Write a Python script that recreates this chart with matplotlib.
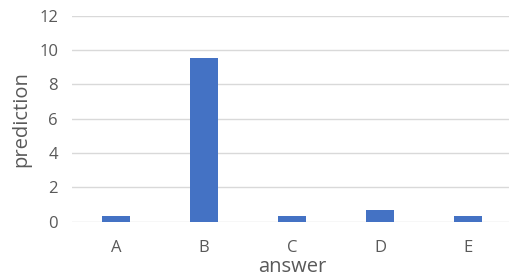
import matplotlib.pyplot as plt

answers = ["A", "B", "C", "D", "E"]
predictions = [0.35, 9.52, 0.35, 0.70, 0.31]
y_ticks = [0, 2, 4, 6, 8, 10, 12]

bar_color = "#4472C4"
text_color = "#595959"
grid_color = "#D9D9D9"

plt.rcParams['font.family'] = ['Open Sans', 'DejaVu Sans']

fig = plt.figure(figsize=(5.1, 2.77), dpi=100)
ax = fig.add_axes([72 / 510, 1 - 221.7 / 277, 440 / 510, (221.7 - 15.7) / 277])

ax.bar(range(len(answers)), predictions, width=0.315, color=bar_color, zorder=3)

ax.set_xlim(-0.5, len(answers) - 0.5)
ax.set_ylim(0, 12)
ax.set_yticks(y_ticks)
ax.set_xticks(range(len(answers)))
ax.set_xticklabels(answers)
ax.grid(axis="y", color=grid_color, linewidth=1, zorder=0)
ax.set_axisbelow(True)

for s in ax.spines.values():
    s.set_visible(False)
ax.tick_params(axis="both", length=0, colors=text_color, labelsize=12)
ax.tick_params(axis="y", pad=10)
ax.tick_params(axis="x", pad=13)

ax.set_xlabel("answer", fontsize=14.5, color=text_color, labelpad=1)
ax.set_ylabel("prediction", fontsize=14.5, color=text_color, labelpad=6)

fig.savefig("out.png", dpi=100)
